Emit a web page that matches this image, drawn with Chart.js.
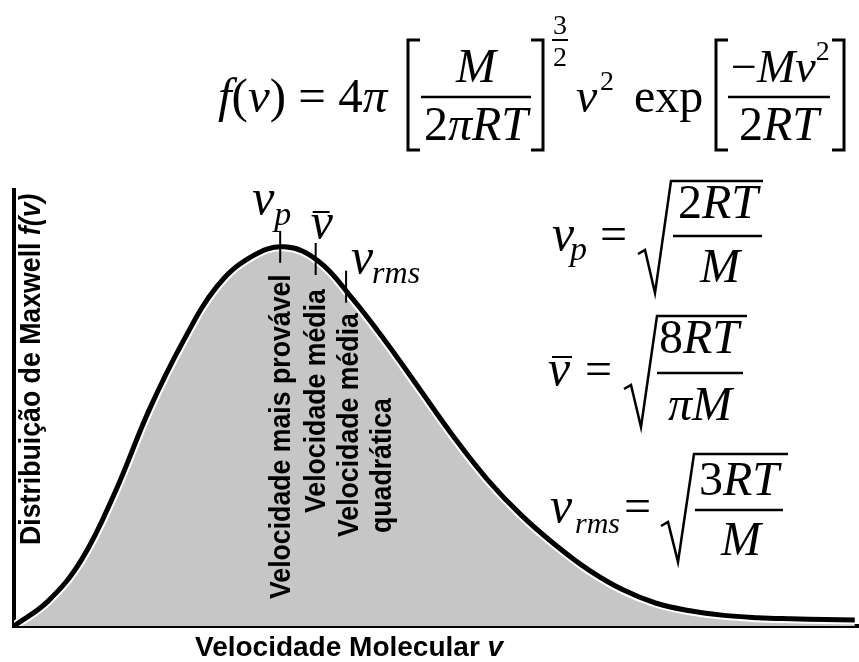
<!DOCTYPE html>
<html>
<head>
<meta charset="utf-8">
<script src="https://cdn.jsdelivr.net/npm/chart.js@4.4.0/dist/chart.umd.min.js"></script>
<style>
  html, body { margin: 0; padding: 0; background: #fff; }
  #wrap { width: 859px; height: 662px; }
</style>
</head>
<body>
<div id="wrap"><canvas id="maxwell"></canvas></div>
<script>
// curva de distribuição de Maxwell (unidades arbitrárias)
var speed   = [0, 4, 8, 12, 16, 20, 24, 28, 32, 36, 40, 44, 48, 52, 56, 60, 64, 68, 72, 76, 80, 84, 88, 92, 96, 99.5];
var maxwell = [0, 6.5, 17.5, 35.5, 57, 75, 89.5, 97.3, 100, 96.3, 86.5, 75, 62.5, 50, 38.7, 29.3, 21.5, 14.8, 9.6, 6.0, 4.0, 2.8, 2.2, 1.9, 1.7, 1.6];

// velocidades características: v_p, v médio, v_rms
var markSpeed = [31.5, 35.7, 39.3];
var markF     = [100, 96.8, 89.5];

var markText = ["Velocidade mais provável", "Velocidade média", "Velocidade média", "quadrática"];
var xTitle = "Velocidade Molecular ";
var yTitle = "Distribuição de Maxwell ";

var SANS = '"Liberation Sans", Arial, sans-serif';
var SERIF = '"Liberation Serif", "Times New Roman", serif';

function it(size) { return "italic " + size + "px " + SERIF; }
function rm(size) { return size + "px " + SERIF; }

// escreve uma sequência de pedaços [texto, fonte] e devolve o x final
function runs(ctx, x, y, parts) {
  ctx.textAlign = "left";
  ctx.textBaseline = "alphabetic";
  parts.forEach(function (p) {
    ctx.font = p[1];
    ctx.fillText(p[0], x, y);
    x += ctx.measureText(p[0]).width;
  });
  return x;
}
function runsWidth(ctx, parts) {
  var w = 0;
  parts.forEach(function (p) { ctx.font = p[1]; w += ctx.measureText(p[0]).width; });
  return w;
}
function centered(ctx, cx, y, parts) {
  runs(ctx, cx - runsWidth(ctx, parts) / 2, y, parts);
}
function hline(ctx, x1, x2, y, w) {
  ctx.lineWidth = w;
  ctx.beginPath(); ctx.moveTo(x1, y); ctx.lineTo(x2, y); ctx.stroke();
}
function bracket(ctx, x, top, bottom, dir) {
  ctx.lineWidth = 3;
  ctx.beginPath();
  ctx.moveTo(x + dir * 12, top);
  ctx.lineTo(x, top);
  ctx.lineTo(x, bottom);
  ctx.lineTo(x + dir * 12, bottom);
  ctx.stroke();
}
function radical(ctx, x, yMid, yBot, yTop, xEnd) {
  ctx.lineWidth = 2.5;
  ctx.beginPath();
  ctx.moveTo(x, yMid + 4);
  ctx.lineTo(x + 7, yMid);
  ctx.lineTo(x + 17, yBot);
  ctx.lineTo(x + 33, yTop);
  ctx.lineTo(xEnd, yTop);
  ctx.stroke();
}
// texto na vertical, lido de baixo para cima (sx estreita a fonte)
function rotated(ctx, x, y, parts, sx) {
  ctx.save();
  ctx.translate(x, y);
  ctx.rotate(-Math.PI / 2);
  ctx.scale(sx || 1, 1);
  runs(ctx, 0, 0, parts);
  ctx.restore();
}

var textPlugin = {
  id: "formulas",
  afterDraw: function (chart) {
    var ctx = chart.ctx;
    var xs = chart.scales.x, ys = chart.scales.y;
    ctx.save();
    ctx.fillStyle = "#000";
    ctx.strokeStyle = "#000";

    // f(v) = 4π [M/2πRT]^(3/2) v² exp[-Mv²/2RT]
    runs(ctx, 218, 112, [["f", it(49)], ["(", rm(49)], ["v", it(49)], [")", rm(49)], [" = 4", rm(49)], ["π", it(49)]]);
    bracket(ctx, 408, 40, 150, 1);
    centered(ctx, 476, 82, [["M", it(48)]]);
    hline(ctx, 421, 531, 97, 2.5);
    centered(ctx, 476, 140, [["2", rm(48)], ["πRT", it(48)]]);
    bracket(ctx, 543, 40, 150, -1);
    centered(ctx, 560, 34, [["3", rm(28)]]);
    hline(ctx, 552, 568, 40, 2);
    centered(ctx, 560, 66, [["2", rm(28)]]);
    runs(ctx, 576, 112, [["v", it(48)]]);
    runs(ctx, 600, 90, [["2", rm(28)]]);
    runs(ctx, 634, 112, [["exp", rm(48)]]);
    bracket(ctx, 716, 40, 150, 1);
    var nx = runs(ctx, 731, 82, [["\u2212", rm(46)], ["Mv", it(46)]]);
    runs(ctx, nx, 60, [["2", rm(28)]]);
    hline(ctx, 728, 830, 97, 2.5);
    centered(ctx, 779, 140, [["2", rm(48)], ["RT", it(48)]]);
    bracket(ctx, 844, 40, 150, -1);

    // v_p = sqrt(2RT/M)
    runs(ctx, 552, 250, [["v", it(50)]]);
    runs(ctx, 570, 260, [["p", it(34)]]);
    runs(ctx, 600, 250, [["=", rm(48)]]);
    radical(ctx, 638, 250, 293, 181, 763);
    centered(ctx, 718, 218, [["2", rm(48)], ["RT", it(48)]]);
    hline(ctx, 673, 762, 236, 2.5);
    centered(ctx, 720, 282, [["M", it(48)]]);

    // v médio = sqrt(8RT/πM)
    runs(ctx, 548, 385, [["v", it(50)]]);
    hline(ctx, 552, 572, 357, 2);
    runs(ctx, 585, 385, [["=", rm(48)]]);
    radical(ctx, 624, 385, 427, 316, 747);
    centered(ctx, 699, 353, [["8", rm(48)], ["RT", it(48)]]);
    hline(ctx, 657, 743, 373, 2.5);
    centered(ctx, 700, 420, [["πM", it(48)]]);

    // v_rms = sqrt(3RT/M)
    runs(ctx, 550, 522, [["v", it(50)]]);
    runs(ctx, 575, 533, [["rms", it(30)]]);
    runs(ctx, 624, 522, [["=", rm(48)]]);
    radical(ctx, 661, 522, 562, 454, 788);
    centered(ctx, 739, 495, [["3", rm(48)], ["RT", it(48)]]);
    hline(ctx, 695, 783, 510, 2.5);
    centered(ctx, 741, 555, [["M", it(48)]]);

    // rótulos das velocidades características
    var px = markSpeed.map(function (s) { return xs.getPixelForValue(s); });
    var py = markF.map(function (f) { return ys.getPixelForValue(f); });
    runs(ctx, px[0] - 28, py[0] - 33, [["v", it(50)]]);
    runs(ctx, px[0] - 6, py[0] - 22, [["p", it(34)]]);
    runs(ctx, px[1] - 5, py[1] - 21, [["v", it(50)]]);
    hline(ctx, px[1] - 3, px[1] + 14, py[1] - 47, 2);
    runs(ctx, px[2] + 5, py[2] - 14, [["v", it(50)]]);
    runs(ctx, px[2] + 26, py[2] - 4, [["rms", it(32)]]);

    var lab = "bold 29px " + SANS;
    rotated(ctx, px[0] + 10, 599, [[markText[0], lab]], 0.92);
    rotated(ctx, px[1] + 9, 513, [[markText[1], lab]], 0.92);
    rotated(ctx, px[2] + 12, 537, [[markText[2], lab]], 0.92);
    rotated(ctx, px[2] + 45, 533, [[markText[3], lab]], 0.92);

    // títulos dos eixos
    rotated(ctx, 40, 545, [[yTitle, lab], ["f(v)", "bold italic 29px " + SANS]], 0.92);
    runs(ctx, 195, 656, [[xTitle, "bold 28px " + SANS], ["v", "bold italic 28px " + SANS]]);
    ctx.restore();
  }
};

var curve = speed.map(function (s, i) { return { x: s, y: maxwell[i] }; });
var marks = markSpeed.map(function (s, i) { return { x: s, y: markF[i] }; });

var ctx1 = document.getElementById("maxwell");
var chart1 = new Chart(ctx1, {
  type: "line",
  data: {
    datasets: [{
        label: "velocidades",
        data: marks,
        showLine: false,
        pointStyle: "line",
        rotation: 90,
        pointRadius: 16,
        pointBorderWidth: 2,
        pointBorderColor: "#000",
        order: 0
      },
      {
        label: "f(v)",
        data: curve,
        borderColor: "#000",
        borderWidth: 5,
        pointRadius: 0,
        tension: 0.4,
        fill: false,
        order: 1
      },
      {
        label: "área",
        data: curve,
        borderColor: "#fff",
        borderWidth: 9,
        pointRadius: 0,
        tension: 0.4,
        backgroundColor: "#c6c6c6",
        fill: "origin",
        order: 2
      }
    ]
  },
  options: {
    responsive: true,
    maintainAspectRatio: false,
    animation: false,
    layout: { autoPadding: false, padding: { left: 14, top: 190, right: 0, bottom: 36 } },
    plugins: { legend: { display: false }, tooltip: { enabled: false } },
    scales: {
      x: {
        type: "linear", min: 0, max: 100,
        grid: { display: false, drawTicks: false },
        ticks: { display: false },
        border: { display: true, color: "#000", width: 4 }
      },
      y: {
        min: 0, max: 115,
        grid: { display: false, drawTicks: false },
        ticks: { display: false },
        border: { display: true, color: "#000", width: 4 }
      }
    }
  },
  plugins: [textPlugin]
});
</script>
</body>
</html>
